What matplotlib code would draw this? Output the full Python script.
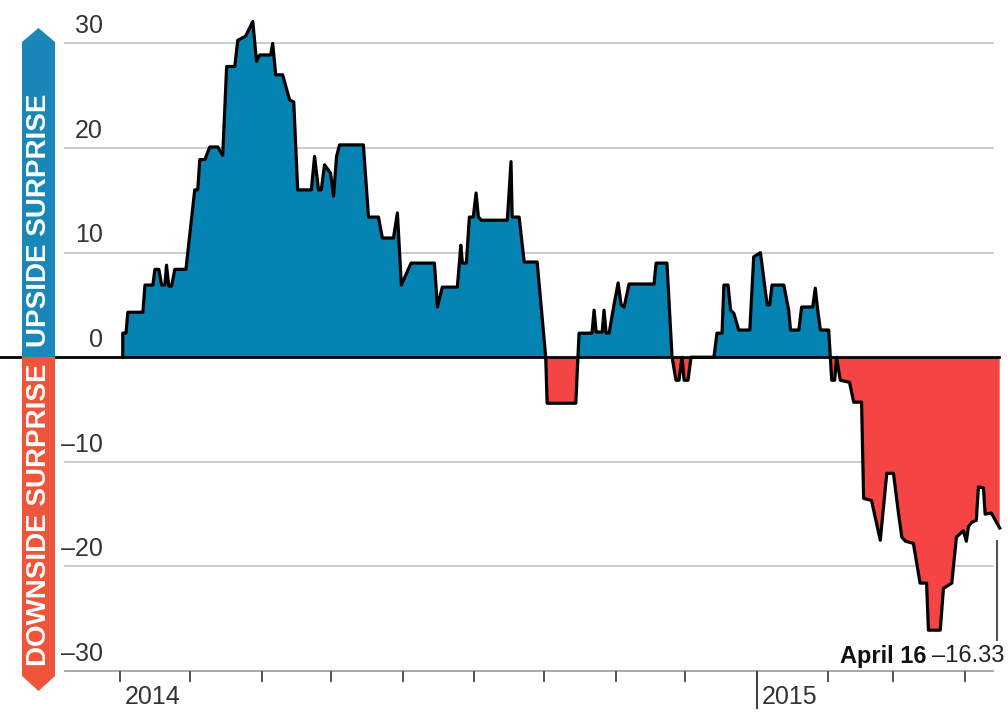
import numpy as np
import pandas as pd
import matplotlib
matplotlib.use('Agg')
import matplotlib.pyplot as plt
from matplotlib.patches import Polygon

# days since 2014-04-01 and index value at each vertex of the line
days = [1.0, 1.0, 2.4, 3.2, 9.7, 10.6, 14.0, 14.9, 16.6, 17.8, 19.2, 19.9, 20.9, 22.1, 23.5,
        28.3, 32.1, 33.4, 34.3, 36.5, 38.6, 42.1, 44.2, 45.9, 49.4, 50.7, 54.1, 57.2, 58.8,
        60.2, 64.9, 65.8, 67.1, 70.1, 73.1, 74.9, 76.6, 82.5, 83.9, 85.6, 86.8, 88.2, 90.8,
        92.1, 93.4, 94.7, 105.0, 107.2, 111.5, 113.2, 118.0, 119.7, 121.4, 125.6, 135.7,
        137.0, 139.1, 145.6, 147.1, 147.8, 149.5, 150.8, 152.5, 153.7, 154.7, 156.0, 167.2,
        168.8, 169.3, 172.3, 174.5, 180.1, 183.8, 184.4, 196.8, 198.2, 203.8, 204.7, 205.6,
        208.2, 209.0, 209.9, 211.2, 213.3, 215.1, 216.4, 217.7, 219.8, 230.6, 231.5, 236.2,
        238.4, 240.1, 241.4, 242.7, 243.6, 245.3, 246.6, 256.5, 257.8, 260.0, 260.8, 262.6,
        263.7, 265.1, 267.2, 272.0, 273.7, 276.6, 279.5, 280.6, 281.6, 286.7, 288.8, 289.6,
        293.2, 294.4, 299.2, 300.3, 301.3, 302.5, 306.1, 307.4, 308.7, 309.5, 311.1, 315.1,
        316.9, 320.3, 321.2, 324.6, 328.4, 331.2, 334.1, 336.3, 337.7, 339.3, 342.7, 345.6,
        348.4, 349.2, 354.3, 355.7, 359.3, 361.3, 364.3, 365.6, 366.5, 367.8, 369.9, 370.8,
        373.0, 373.7, 376.4, 380.0]
values = [0, 2.3, 2.3, 4.3, 4.3, 6.9, 6.9, 8.4, 8.4, 6.9, 6.9, 8.8, 6.8, 6.8, 8.4,
          8.4, 16.0, 16.0, 18.9, 18.9, 20.1, 20.1, 19.3, 27.8, 27.8, 30.3, 30.7, 32.1, 28.3,
          28.9, 28.9, 30.0, 27.0, 27.0, 24.6, 24.4, 16.0, 16.0, 19.2, 16.0, 16.0, 18.4, 17.6,
          15.4, 19.2, 20.3, 20.3, 13.4, 13.4, 11.4, 11.4, 13.8, 6.9, 9.0, 9.0,
          4.8, 6.7, 6.7, 10.7, 9.0, 9.0, 13.4, 13.4, 15.7, 13.4, 13.1, 13.1,
          18.7, 13.4, 13.4, 9.1, 9.1, 0, -4.4, -4.4, 2.3, 2.3, 4.5, 2.4,
          2.4, 4.5, 2.3, 2.3, 5.0, 7.1, 5.0, 4.8, 7.0, 7.0, 9.0, 9.0,
          0, -2.2, -2.2, 0, -2.2, -2.2, 0, 0, 2.3, 2.3, 6.9, 6.9,
          4.5, 4.2, 2.6, 2.6, 9.6, 10.0, 5.0, 5.0, 6.9, 6.9, 4.5, 2.6,
          2.6, 4.8, 4.8, 6.6, 4.6, 2.6, 2.6, -2.2, -2.2, 0, -2.2, -2.4,
          -4.3, -4.3, -13.5, -13.7, -17.5, -11.1, -11.1, -15.0, -17.2, -17.6, -17.8, -21.6,
          -21.6, -26.1, -26.1, -22.1, -21.6, -17.2, -16.6, -17.6, -16.2, -15.8, -15.6, -12.4,
          -12.5, -15.0, -14.9, -16.33]

y_ticks = [30, 20, 10, 0, -10, -20, -30]
start_date = pd.Timestamp('2014-04-01')
month_starts = pd.date_range('2014-04-01', '2015-04-01', freq='MS')
year_labels = ['2014', '2015']
year_dates = [pd.Timestamp('2014-04-01'), pd.Timestamp('2015-01-01')]
last_label = 'April 16'
last_value = '\u201316.33'

BLUE = '#0584b3'
RED = '#f44444'
BAND_BLUE = '#1b87b9'
BAND_RED = '#f0543a'
GRID = '#c8c8c8'

plt.rcParams['font.family'] = ['Liberation Sans Narrow', 'Liberation Sans', 'DejaVu Sans']

x = np.array(days)
y = np.array(values)

fig = plt.figure(figsize=(10.08, 7.19), dpi=100)
W, H = 1008, 719
ax = fig.add_axes([95 / W, 1 - 672 / H, 907 / W, 662 / H])
ax.set_xlim(-11, 381)
ax.set_ylim(-30.1, 33.2)
ax.axis('off')

ytr = ax.get_yaxis_transform()
lab_x = (103 - 95) / 907
for t in y_ticks:
    if t != 0:
        ax.plot([-0.033, 0.99], [t, t], color=GRID if t != -30 else '#a0a0a0',
                lw=1.3, transform=ytr, clip_on=False, zorder=1)
    lab = str(t) if t >= 0 else '\u2013' + str(-t)
    ax.text(lab_x, t + 0.5, lab, transform=ytr, ha='right', va='bottom',
            fontsize=18, color='#333333')

ax.fill_between(x, y, 0, where=y >= 0, interpolate=True, color=BLUE, lw=0, zorder=2)
ax.fill_between(x, y, 0, where=y <= 0, interpolate=True, color=RED, lw=0, zorder=2)
ax.plot(x, y, color='black', lw=2.3, zorder=3, solid_joinstyle='round')
ax.plot([-0.105, 0.997], [0, 0], color='black', lw=2, transform=ytr,
        clip_on=False, zorder=4)

# month ticks along the bottom
xtr = ax.get_xaxis_transform()
for d in month_starts:
    pos = (d - start_date).days
    long = d.month == 1
    ax.plot([pos, pos], [0, -36 / 662 if long else -9 / 662], color='#444444',
            lw=1.5 if long else 1.3, transform=xtr, clip_on=False)
for lab, d in zip(year_labels, year_dates):
    pos = (d - start_date).days
    ax.text(pos + 2.0, -25 / 662, lab, transform=xtr, ha='left', va='center',
            fontsize=18, color='#333333')

# last value marker
ax.plot([x[-1] - 1, x[-1] - 1], [-17.6, -27.0], color='#555555', lw=1.5, zorder=3)
tv = fig.text(1004 / W, 1 - 656 / H, last_value, ha='right', va='center',
              fontsize=17, color='#222222')
fig.canvas.draw()
bb = tv.get_window_extent()
fig.text((bb.x0 - 5) / W, 1 - 656 / H, last_label, ha='right', va='center',
         fontsize=17, fontweight='bold', color='#111111')

# side bands
def band(pts, color):
    poly = Polygon([(px / W, 1 - py / H) for px, py in pts], closed=True,
                   transform=fig.transFigure, facecolor=color, edgecolor='none')
    fig.patches.append(poly)

band([(22, 357), (22, 42), (38.5, 28), (55, 42), (55, 357)], BAND_BLUE)
band([(22, 357), (22, 676), (38.5, 691), (55, 676), (55, 357)], BAND_RED)
fig.text(39.5 / W, 1 - 220 / H, 'UPSIDE SURPRISE', rotation=90, ha='center',
         va='center', fontsize=20, fontweight='bold', color='white')
fig.text(39.5 / W, 1 - 515 / H, 'DOWNSIDE SURPRISE', rotation=90, ha='center',
         va='center', fontsize=20, fontweight='bold', color='white')

fig.savefig('out.png', dpi=100, facecolor='white')
